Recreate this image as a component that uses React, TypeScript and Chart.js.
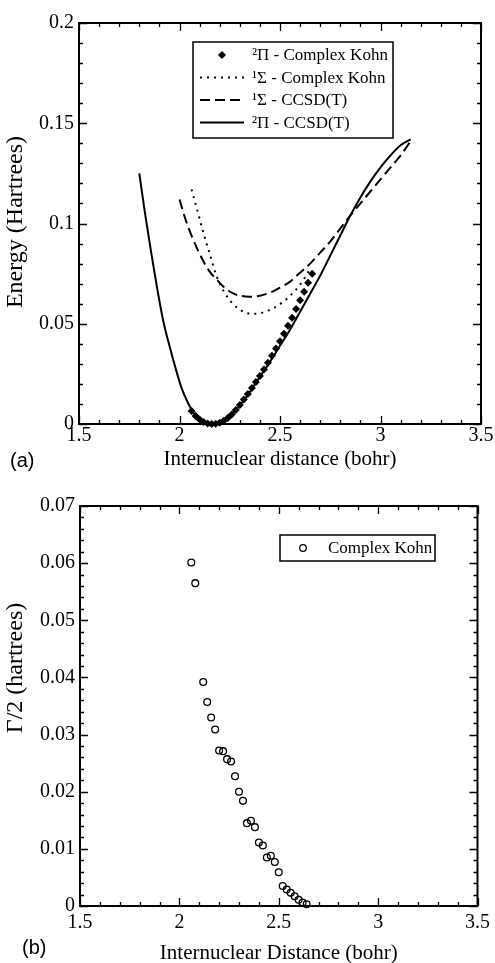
import React, { useEffect, useRef } from "react";
import { Chart, registerables } from "chart.js";
Chart.register(...registerables);

// ---------- data (panel a) ----------
const piKohnX = [2.06, 2.08, 2.10, 2.12, 2.14, 2.16, 2.18, 2.20, 2.22, 2.24, 2.26, 2.28, 2.30, 2.32, 2.34, 2.36, 2.38, 2.40, 2.42, 2.44, 2.46, 2.48, 2.50, 2.52, 2.54, 2.56, 2.58, 2.60, 2.62, 2.64, 2.66];
const piKohnY = [0.0065, 0.0040, 0.0022, 0.0010, 0.0003, 0.0000, 0.0001, 0.0006, 0.0016, 0.0030, 0.0048, 0.0070, 0.0095, 0.0122, 0.0150, 0.0180, 0.0210, 0.0240, 0.0272, 0.0305, 0.0340, 0.0376, 0.0413, 0.0450, 0.0490, 0.0530, 0.0573, 0.0617, 0.0660, 0.0705, 0.0750];

const sigmaKohnX = [2.06, 2.09, 2.12, 2.15, 2.18, 2.21, 2.24, 2.27, 2.30, 2.33, 2.36, 2.39, 2.42, 2.45, 2.48, 2.51, 2.54, 2.57, 2.60, 2.63, 2.65];
const sigmaKohnY = [0.117, 0.106, 0.095, 0.085, 0.075, 0.068, 0.063, 0.0595, 0.057, 0.0555, 0.055, 0.055, 0.0558, 0.057, 0.0585, 0.0605, 0.063, 0.066, 0.0695, 0.074, 0.0775];

const sigmaCcsdX = [2.00, 2.03, 2.06, 2.09, 2.12, 2.15, 2.19, 2.23, 2.27, 2.31, 2.35, 2.40, 2.45, 2.50, 2.55, 2.60, 2.65, 2.70, 2.75, 2.80, 2.85, 2.90, 2.95, 3.00, 3.05, 3.10, 3.15];
const sigmaCcsdY = [0.112, 0.102, 0.094, 0.087, 0.081, 0.076, 0.0715, 0.0675, 0.065, 0.0638, 0.0635, 0.064, 0.0655, 0.068, 0.071, 0.0755, 0.080, 0.0855, 0.091, 0.0975, 0.104, 0.110, 0.116, 0.122, 0.128, 0.134, 0.141];

const piCcsdX = [1.80, 1.83, 1.86, 1.89, 1.92, 1.95, 1.98, 2.01, 2.04, 2.07, 2.10, 2.13, 2.16, 2.19, 2.22, 2.25, 2.28, 2.31, 2.34, 2.37, 2.40, 2.45, 2.50, 2.55, 2.60, 2.65, 2.70, 2.75, 2.80, 2.85, 2.90, 2.95, 3.00, 3.05, 3.10, 3.15];
const piCcsdY = [0.125, 0.104, 0.085, 0.067, 0.051, 0.039, 0.028, 0.018, 0.011, 0.0055, 0.002, 0.0003, 0.0, 0.0005, 0.002, 0.0045, 0.007, 0.0105, 0.0145, 0.019, 0.0235, 0.031, 0.039, 0.047, 0.056, 0.065, 0.074, 0.084, 0.094, 0.104, 0.113, 0.121, 0.128, 0.134, 0.139, 0.142];

// ---------- data (panel b) ----------
const widthX = [2.06, 2.08, 2.12, 2.14, 2.16, 2.18, 2.20, 2.22, 2.24, 2.26, 2.28, 2.30, 2.32, 2.34, 2.36, 2.38, 2.40, 2.42, 2.44, 2.46, 2.48, 2.50, 2.52, 2.54, 2.56, 2.58, 2.60, 2.62, 2.64];
const widthY = [0.0601, 0.0565, 0.0392, 0.0357, 0.0330, 0.0309, 0.0272, 0.0271, 0.0257, 0.0253, 0.0227, 0.0200, 0.0184, 0.0145, 0.0149, 0.0138, 0.0111, 0.0106, 0.0085, 0.0088, 0.0077, 0.0059, 0.0035, 0.0029, 0.0023, 0.0017, 0.0011, 0.0006, 0.0003];

// ---------- ticks & labels ----------
const xTicks = [1.5, 2, 2.5, 3, 3.5];
const energyTicks = [0, 0.05, 0.1, 0.15, 0.2];
const widthTicks = [0, 0.01, 0.02, 0.03, 0.04, 0.05, 0.06, 0.07];
const legendA = ["²Π - Complex Kohn", "¹Σ - Complex Kohn", "¹Σ - CCSD(T)", "²Π - CCSD(T)"];
const legendB = ["Complex Kohn"];
const titlesA = { x: "Internuclear distance (bohr)", y: "Energy (Hartrees)" };
const titlesB = { x: "Internuclear Distance (bohr)", y: "Γ/2 (hartrees)" };

const SERIF = "'Liberation Serif', 'Times New Roman', serif";

const fmt = (v: number) => String(Math.round(v * 10000) / 10000);
const pts = (xs: number[], ys: number[]) => xs.map((x, i) => ({ x, y: ys[i] }));

const frameTicks = {
  id: "frameTicks",
  afterDraw(chart: any, _a: any, opts: any) {
    const { ctx, chartArea: a } = chart;
    const xs = chart.scales.x;
    const ys = chart.scales.y;
    ctx.save();
    ctx.strokeStyle = "#000";
    ctx.lineWidth = 1.3;
    ctx.beginPath();
    const nx = Math.round((xs.max - xs.min) / opts.xMinor);
    for (let i = 0; i <= nx; i++) {
      const v = xs.min + i * opts.xMinor;
      const len = i % opts.xEvery === 0 ? 8 : 4;
      const p = Math.round(xs.getPixelForValue(v)) + 0.5;
      ctx.moveTo(p, a.bottom);
      ctx.lineTo(p, a.bottom - len);
      ctx.moveTo(p, a.top);
      ctx.lineTo(p, a.top + len);
    }
    const ny = Math.round((ys.max - ys.min) / opts.yMinor);
    for (let i = 0; i <= ny; i++) {
      const v = ys.min + i * opts.yMinor;
      const len = i % opts.yEvery === 0 ? 8 : 4;
      const p = Math.round(ys.getPixelForValue(v)) + 0.5;
      ctx.moveTo(a.left, p);
      ctx.lineTo(a.left + len, p);
      ctx.moveTo(a.right, p);
      ctx.lineTo(a.right - len, p);
    }
    ctx.stroke();
    ctx.lineWidth = 2;
    ctx.strokeRect(a.left, a.top, a.right - a.left, a.bottom - a.top);

    // rotated y-axis title
    const T = opts.yTitle;
    if (T) {
      ctx.save();
      ctx.translate(T.x, T.y);
      ctx.rotate(-Math.PI / 2);
      ctx.font = `${T.size}px ${SERIF}`;
      ctx.fillStyle = "#000";
      ctx.textAlign = "center";
      ctx.textBaseline = "middle";
      ctx.fillText(T.text, 0, 0);
      ctx.restore();
    }

    // legend box
    const L = opts.legend;
    if (L) {
      ctx.lineWidth = 1.5;
      ctx.strokeRect(L.box[0], L.box[1], L.box[2], L.box[3]);
      ctx.font = `17px ${SERIF}`;
      ctx.fillStyle = "#000";
      ctx.textBaseline = "middle";
      ctx.textAlign = "left";
      L.rows.forEach((r: any) => {
        const [s0, s1] = L.sample;
        const mid = (s0 + s1) / 2;
        ctx.save();
        ctx.lineWidth = 2;
        if (r.kind === "diamond") {
          ctx.beginPath();
          ctx.moveTo(mid, r.y - 4);
          ctx.lineTo(mid + 4, r.y);
          ctx.lineTo(mid, r.y + 4);
          ctx.lineTo(mid - 4, r.y);
          ctx.closePath();
          ctx.fill();
        } else if (r.kind === "circle") {
          ctx.lineWidth = 1.3;
          ctx.beginPath();
          ctx.arc(mid, r.y, 3.3, 0, Math.PI * 2);
          ctx.stroke();
        } else {
          ctx.setLineDash(r.kind === "dot" ? [2, 5] : r.kind === "dash" ? [10, 5] : []);
          ctx.beginPath();
          ctx.moveTo(s0, r.y);
          ctx.lineTo(s1, r.y);
          ctx.stroke();
        }
        ctx.restore();
        ctx.fillText(r.label, L.textX, r.y + 1);
      });
    }
    ctx.restore();
  },
};

function axisOptions(ticks: number[], min: number, max: number, title: string, isX: boolean, size: number, titlePad: any, tickPad: number) {
  return {
    type: "linear",
    min,
    max,
    position: isX ? "bottom" : "left",
    grid: { display: false, drawTicks: false },
    border: { display: false },
    afterBuildTicks: (s: any) => {
      s.ticks = ticks.map((v) => ({ value: v }));
    },
    afterFit: (s: any) => {
      if (isX) s.height = size;
      else s.width = size;
    },
    ticks: {
      color: "#000",
      font: { family: SERIF, size: 20 },
      padding: tickPad,
      maxRotation: 0,
      autoSkip: false,
      callback: (v: any) => fmt(Number(v)),
    },
    title: {
      display: isX,
      text: title,
      color: "#000",
      font: { family: SERIF, size: 21 },
      padding: titlePad,
    },
  };
}

function configA(): any {
  return {
    type: "scatter",
    data: {
      datasets: [
        {
          label: legendA[0],
          data: pts(piKohnX, piKohnY),
          pointStyle: "rectRot",
          pointRadius: 4,
          backgroundColor: "#000",
          borderColor: "#000",
          borderWidth: 0,
          showLine: false,
          clip: false,
        },
        {
          label: legendA[1],
          data: pts(sigmaKohnX, sigmaKohnY),
          showLine: true,
          pointRadius: 0,
          borderColor: "#000",
          borderWidth: 2,
          borderDash: [2, 5],
          cubicInterpolationMode: "monotone",
          clip: false,
        },
        {
          label: legendA[2],
          data: pts(sigmaCcsdX, sigmaCcsdY),
          showLine: true,
          pointRadius: 0,
          borderColor: "#000",
          borderWidth: 2,
          borderDash: [10, 5],
          cubicInterpolationMode: "monotone",
          clip: false,
        },
        {
          label: legendA[3],
          data: pts(piCcsdX, piCcsdY),
          showLine: true,
          pointRadius: 0,
          borderColor: "#000",
          borderWidth: 2,
          cubicInterpolationMode: "monotone",
          clip: false,
        },
      ],
    },
    options: {
      animation: false,
      responsive: false,
      layout: { padding: { left: 0, right: 14, top: 23, bottom: 0 } },
      scales: {
        x: axisOptions(xTicks, 1.5, 3.5, titlesA.x, true, 51, { top: 0, bottom: 3 }, 0),
        y: axisOptions(energyTicks, 0, 0.2, titlesA.y, false, 79, { top: 0, bottom: 0 }, 5),
      },
      plugins: {
        legend: { display: false },
        tooltip: { enabled: false },
        frameTicks: {
          xMinor: 0.1,
          xEvery: 5,
          yMinor: 0.01,
          yEvery: 5,
          yTitle: { text: titlesA.y, x: 16, y: 222, size: 24 },
          legend: {
            box: [193, 42, 200, 96],
            sample: [200, 244],
            textX: 252,
            rows: [
              { y: 55, kind: "diamond", label: legendA[0] },
              { y: 77.5, kind: "dot", label: legendA[1] },
              { y: 100, kind: "dash", label: legendA[2] },
              { y: 122.5, kind: "solid", label: legendA[3] },
            ],
          },
        },
      },
    },
    plugins: [frameTicks],
  };
}

function configB(): any {
  return {
    type: "scatter",
    data: {
      datasets: [
        {
          label: legendB[0],
          data: pts(widthX, widthY),
          pointStyle: "circle",
          pointRadius: 3.4,
          backgroundColor: "rgba(0,0,0,0)",
          borderColor: "#000",
          borderWidth: 1.3,
          showLine: false,
          clip: false,
        },
      ],
    },
    options: {
      animation: false,
      responsive: false,
      layout: { padding: { left: 0, right: 14, top: 26, bottom: 0 } },
      scales: {
        x: axisOptions(xTicks, 1.5, 3.5, titlesB.x, true, 57, { top: 0, bottom: -3 }, 5),
        y: axisOptions(widthTicks, 0, 0.07, titlesB.y, false, 80, { top: 0, bottom: 0 }, 5),
      },
      plugins: {
        legend: { display: false },
        tooltip: { enabled: false },
        frameTicks: {
          xMinor: 0.1,
          xEvery: 5,
          yMinor: 0.002,
          yEvery: 5,
          yTitle: { text: titlesB.y, x: 16, y: 188, size: 24 },
          legend: {
            box: [280, 55, 155, 26],
            sample: [293, 313],
            textX: 328,
            rows: [{ y: 68, kind: "circle", label: legendB[0] }],
          },
        },
      },
    },
    plugins: [frameTicks],
  };
}

function Plot({ make, top, height }: { make: () => any; top: number; height: number }) {
  const ref = useRef<HTMLCanvasElement>(null);
  useEffect(() => {
    const chart = new Chart(ref.current as HTMLCanvasElement, make());
    return () => chart.destroy();
  }, []);
  return (
    <canvas
      ref={ref}
      width={495}
      height={height}
      style={{ position: "absolute", left: 0, top, width: 495, height }}
    />
  );
}

export default function App() {
  const panelLabel: React.CSSProperties = {
    position: "absolute",
    fontFamily: "'Liberation Sans', Arial, sans-serif",
    fontSize: 20,
    lineHeight: "20px",
    color: "#000",
  };
  return (
    <div style={{ position: "absolute", left: 0, top: 0, width: 495, height: 963, background: "#fff", overflow: "hidden" }}>
      <Plot make={configA} top={0} height={475} />
      <Plot make={configB} top={480} height={483} />
      <div style={{ ...panelLabel, left: 10, top: 450 }}>(a)</div>
      <div style={{ ...panelLabel, left: 22, top: 937 }}>(b)</div>
    </div>
  );
}
